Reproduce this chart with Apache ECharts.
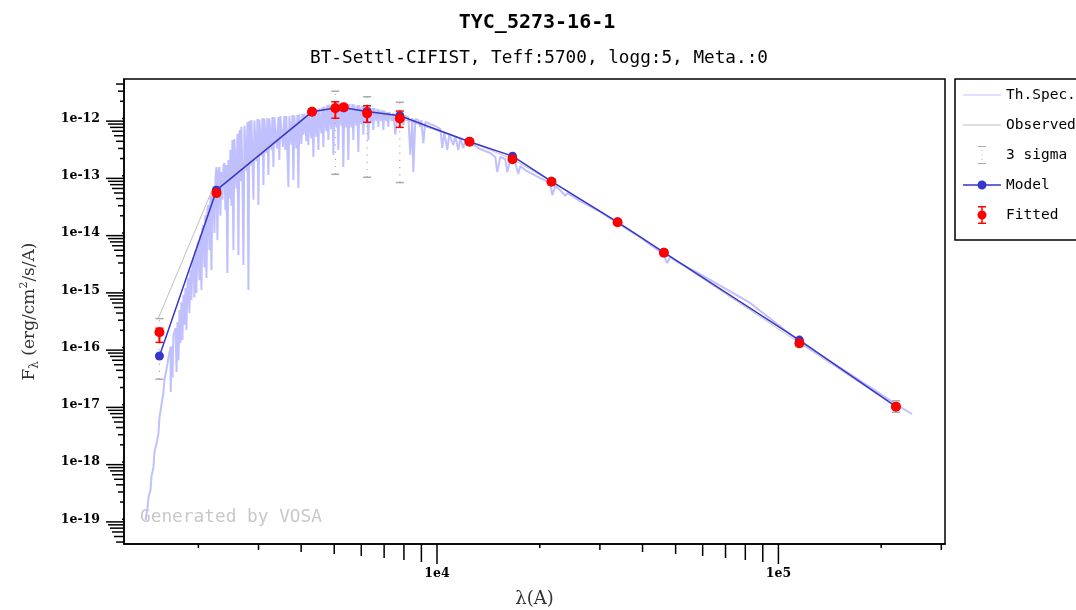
<!DOCTYPE html>
<html><head><meta charset="utf-8">
<script src="https://cdn.jsdelivr.net/npm/echarts@6/dist/echarts.min.js"></script>
<style>html,body{margin:0;padding:0;background:#fff}#c{width:1076px;height:610px}</style>
</head><body><div id="c"></div>
<script>
const titleText = 'TYC_5273-16-1';
const subtitleText = 'BT-Settl-CIFIST, Teff:5700, logg:5, Meta.:0';
const xAxisName = 'λ(A)';
const watermark = 'Generated by VOSA';
const legendNames = ['Th.Spec.', 'Observed', '3 sigma', 'Model', 'Fitted'];

// tick labels (powers of ten shown)
const xTickLabels = ['1e4', '1e5'];
const yTickLabels = ['1e-19', '1e-18', '1e-17', '1e-16', '1e-15', '1e-14', '1e-13', '1e-12'];
// tick marks: mantissa x 10^exp
const xTickVals = [2000,3000,4000,5000,6000,7000,8000,9000,10000,20000,30000,40000,50000,60000,70000,80000,90000,100000,200000,300000];
const yTickMant = [1,2,3,4,5,6,7,8,9];
const yTickExp = [-20,-19,-18,-17,-16,-15,-14,-13,-12];

// theoretical spectrum [wavelength A, flux]
const specData = [[1400,9.7e-20],[1419,1.58e-19],[1429,2.45e-19],[1448,3.25e-19],[1458,5.7e-19],[1477,7.9e-19],[1487,1.5e-18],[1507,2.07e-18],[1528,3.2e-18],[1538,5.9e-18],[1559,9.9e-18],[1580,1.67e-17],[1591,2.71e-17],[1612,4.06e-17],[1634,6.6e-17],[1657,1.02e-16],[1660,1.67e-17],[1668,1.05e-16],[1680,3.0e-17],[1690,1.66e-16],[1714,2.19e-16],[1726,3.74e-17],[1737,2.79e-16],[1749,6.0e-17],[1761,4.5e-16],[1772,1.2e-16],[1784,6.2e-16],[1796,1.35e-16],[1809,8.3e-16],[1821,2.5e-16],[1833,1.1e-15],[1845,2.03e-16],[1858,1.3e-15],[1870,1.64e-15],[1883,4.0e-16],[1896,2.26e-15],[1908,6.8e-16],[1921,3.0e-15],[1934,3.66e-15],[1947,7.5e-16],[1961,5.0e-15],[1973,8.95e-16],[1987,6.0e-15],[2001,6.97e-15],[2014,1.5e-15],[2028,9.2e-15],[2042,1.01e-15],[2055,1.2e-14],[2069,1.38e-14],[2083,2.5e-15],[2097,2.06e-14],[2112,1.64e-15],[2126,2.6e-14],[2140,3.08e-14],[2155,5.0e-15],[2169,4.44e-14],[2184,2.26e-15],[2199,5.5e-14],[2214,6.6e-14],[2229,1.0e-14],[2244,9.1e-14],[2259,1.42e-13],[2274,7.5e-15],[2290,1.2e-13],[2305,1.42e-13],[2320,2.0e-14],[2336,1.16e-13],[2352,3.8e-14],[2368,1.5e-13],[2384,1.67e-13],[2400,2.5e-14],[2416,1.54e-13],[2432,2.0e-15],[2449,1.88e-13],[2465,4.0e-14],[2482,2.82e-13],[2499,3.0e-14],[2516,4.2e-13],[2533,5.0e-15],[2550,4.4e-13],[2568,4.56e-13],[2585,6.0e-14],[2603,5.36e-13],[2620,4.1e-15],[2638,5.8e-13],[2655,6.3e-13],[2664,8.0e-14],[2673,7.1e-13],[2692,9.0e-14],[2710,2.77e-15],[2729,7.5e-13],[2747,8.0e-13],[2765,1.2e-13],[2784,8.7e-13],[2803,1.01e-15],[2821,9.0e-13],[2840,1.5e-13],[2860,9.4e-13],[2880,2.0e-13],[2899,3.8e-14],[2918,9.2e-13],[2938,9.4e-13],[2958,1.8e-13],[2978,9.8e-13],[2998,3.08e-14],[3019,9.6e-13],[3039,9.8e-13],[3060,2.2e-13],[3080,1.02e-12],[3101,6.9e-14],[3122,1.0e-12],[3143,1.02e-12],[3164,2.5e-13],[3185,1.02e-12],[3207,1.03e-13],[3228,1.0e-12],[3250,1.02e-12],[3272,2.8e-13],[3295,1.06e-12],[3317,1.42e-13],[3340,1.05e-12],[3362,1.06e-12],[3396,3.0e-13],[3430,1.06e-12],[3453,1.88e-13],[3477,1.1e-12],[3500,1.11e-12],[3536,3.2e-13],[3572,1.11e-12],[3596,2.82e-13],[3620,1.1e-12],[3645,1.11e-12],[3670,6.4e-14],[3695,1.1e-12],[3720,1.11e-12],[3745,3.5e-13],[3770,1.15e-12],[3796,8.4e-14],[3821,1.14e-12],[3847,1.15e-12],[3873,3.0e-13],[3899,1.15e-12],[3926,6.1e-14],[3952,1.18e-12],[3979,1.2e-12],[4006,3.6e-13],[4033,1.2e-12],[4060,5.2e-13],[4088,1.22e-12],[4116,1.25e-12],[4144,4.0e-13],[4172,1.3e-12],[4200,3.44e-13],[4228,1.3e-12],[4257,1.3e-12],[4285,4.5e-13],[4314,1.35e-12],[4344,2.13e-13],[4373,1.38e-12],[4403,1.41e-12],[4433,4.8e-13],[4463,1.47e-12],[4493,2.82e-13],[4523,1.5e-12],[4554,1.52e-12],[4585,5.5e-13],[4616,1.59e-12],[4647,3.18e-13],[4678,1.62e-12],[4710,1.65e-12],[4742,6.0e-13],[4774,1.72e-12],[4807,4.2e-13],[4840,1.76e-12],[4872,1.79e-12],[4904,6.5e-13],[4936,1.79e-12],[4972,2.3e-13],[5005,1.85e-12],[5039,1.87e-12],[5072,7.0e-13],[5105,1.87e-12],[5140,2.82e-13],[5176,1.86e-12],[5212,1.87e-12],[5246,7.5e-13],[5280,1.87e-12],[5316,1.42e-13],[5352,1.87e-12],[5389,1.87e-12],[5425,7.0e-13],[5462,1.79e-12],[5499,1.88e-13],[5536,1.8e-12],[5574,1.79e-12],[5611,7.0e-13],[5649,1.79e-12],[5687,4.2e-13],[5726,1.75e-12],[5765,1.72e-12],[5804,7.5e-13],[5843,1.72e-12],[5883,2.6e-13],[5922,1.72e-12],[5962,1.72e-12],[6002,8.0e-13],[6043,1.65e-12],[6085,5.2e-13],[6126,1.66e-12],[6168,1.65e-12],[6209,8.0e-13],[6251,1.59e-12],[6294,4.2e-13],[6336,1.6e-12],[6379,1.59e-12],[6422,8.5e-13],[6466,1.52e-12],[6510,6.3e-13],[6554,1.52e-12],[6598,1.52e-12],[6642,9.0e-13],[6687,1.47e-12],[6733,7.1e-13],[6778,1.44e-12],[6824,1.41e-12],[6870,9.0e-13],[6917,1.41e-12],[6964,6.3e-13],[7011,1.37e-12],[7058,1.35e-12],[7105,9.0e-13],[7153,1.3e-12],[7201,7.1e-13],[7250,1.3e-12],[7300,1.3e-12],[7375,9.0e-13],[7449,1.25e-12],[7550,5.2e-13],[7652,1.2e-12],[7730,9.0e-13],[7809,1.2e-12],[7968,7.7e-13],[8076,1.11e-12],[8241,1.06e-12],[8353,2.3e-13],[8467,1.02e-12],[8524,1.16e-13],[8640,9.8e-13],[8816,9.4e-13],[8936,7.1e-13],[8995,9.4e-13],[9119,3.7e-13],[9243,8.7e-13],[9559,8.0e-13],[9886,7.4e-13],[10222,6.6e-13],[10363,3.06e-13],[10505,5.8e-13],[10720,2.82e-13],[10866,5.36e-13],[11163,3.44e-13],[11312,4.94e-13],[11544,2.82e-13],[11700,4.56e-13],[11940,3.06e-13],[12103,4.2e-13],[12517,3.7e-13],[12945,3.31e-13],[13390,2.93e-13],[14322,2.5e-13],[14814,2.13e-13],[15016,1.16e-13],[15320,2.13e-13],[15848,1.96e-13],[16064,1.16e-13],[16388,1.88e-13],[16950,1.67e-13],[17300,1.07e-13],[17536,1.48e-13],[18137,1.26e-13],[18759,1.12e-13],[20063,9.1e-14],[21460,7.5e-14],[21750,4.6e-14],[22210,6.6e-14],[22960,5.6e-14],[23750,4.44e-14],[24070,5.0e-14],[26270,3.62e-14],[30070,2.33e-14],[34410,1.38e-14],[39380,8.5e-15],[40720,7.3e-15],[45980,4.3e-15],[47230,2.99e-15],[48200,3.81e-15],[50510,3.12e-15],[59000,1.92e-15],[82640,6.0e-16],[115750,1.25e-16],[162150,3.45e-17],[227200,9.2e-18],[246200,6.9e-18]];

// observed SED line
const obsData = [[1528,3.3e-16],[2214,6.4e-14],[4305,1.31e-12],[5036,1.51e-12],[5330,1.56e-12],[6240,1.25e-12],[7780,1.02e-12],[12450,3.94e-13],[16640,1.96e-13],[21640,7.9e-14],[33800,1.54e-14],[46200,4.5e-15],[115200,1.2e-16],[221000,9.3e-18]];

// model photometry
const modelData = [[1538,7.1e-17],[2260,5.6e-14],[4305,1.31e-12],[5036,1.52e-12],[5330,1.54e-12],[6240,1.33e-12],[7780,1.12e-12],[12450,3.94e-13],[16640,2.2e-13],[21640,8.0e-14],[33800,1.55e-14],[46200,4.6e-15],[115200,1.35e-16],[221000,9.3e-18]];

// fitted photometry [wave, flux, low, high]
const fitData = [[1538,1.85e-16,1.23e-16,2.17e-16],[2260,5.0e-14,4.7e-14,5.3e-14],[4305,1.31e-12,1.26e-12,1.36e-12],[5036,1.51e-12,1.01e-12,1.96e-12],[5330,1.57e-12,1.5e-12,1.64e-12],[6240,1.23e-12,8.6e-13,1.67e-12],[7780,1.0e-12,7.0e-13,1.35e-12],[12450,3.94e-13,3.8e-13,4.1e-13],[16640,1.94e-13,1.88e-13,2.0e-13],[21640,7.87e-14,7.6e-14,8.1e-14],[33800,1.54e-14,1.49e-14,1.59e-14],[46200,4.53e-15,4.38e-15,4.68e-15],[115200,1.19e-16,1.14e-16,1.24e-16],[221000,9.27e-18,8.6e-18,9.9e-18]];

// 3 sigma ranges [wave, flux, low, high]
const sigmaData = [[1538,1.85e-16,2.8e-17,3.2e-16],[2260,5.0e-14,4.2e-14,5.9e-14],[4305,1.31e-12,1.15e-12,1.47e-12],[5036,1.51e-12,1.06e-13,3.0e-12],[5330,1.57e-12,1.38e-12,1.76e-12],[6240,1.23e-12,9.4e-14,2.4e-12],[7780,1.0e-12,7.6e-14,1.92e-12],[12450,3.94e-13,3.5e-13,4.4e-13],[16640,1.94e-13,1.72e-13,2.16e-13],[21640,7.87e-14,7.0e-14,8.8e-14],[33800,1.54e-14,1.37e-14,1.71e-14],[46200,4.53e-15,4.0e-15,5.1e-15],[115200,1.19e-16,1.03e-16,1.36e-16],[221000,9.27e-18,7.4e-18,1.17e-17]];

const xMin = 1211, xMax = 307600;
const yMin = 3.7e-20, yMax = 4.9e-12;

const C_SPEC = '#c0c0ff', C_OBS = '#c0c0c0', C_SIG = '#aaaaaa', C_MODEL = '#3636cc', C_FIT = '#ff0000';

const yTickData = [];
yTickExp.forEach(e => yTickMant.forEach(m => {
  const v = m * Math.pow(10, e);
  if (v > yMin && v < yMax) yTickData.push([2000, v, m]);
}));
const xTickData = xTickVals.map(v => {
  const m = Math.round(v / Math.pow(10, Math.floor(Math.log10(v) + 1e-9)));
  return [v, 1e-15, m === 1 ? 10 : m];
});

function powLabel(list) {
  return function (v) {
    const l = Math.log10(v);
    if (Math.abs(l - Math.round(l)) > 1e-6) return '';
    const s = '1e' + Math.round(l);
    return list.indexOf(s) >= 0 ? s : '';
  };
}

function errRender(color, dotted, withDot) {
  return function (params, api) {
    const x = api.value(0);
    const p = api.coord([x, api.value(1)]);
    const lo = api.coord([x, api.value(2)]);
    const hi = api.coord([x, api.value(3)]);
    const cw = 4;
    const lw = dotted ? 1.2 : 2;
    const ch = [
      {type: 'line', shape: {x1: lo[0], y1: lo[1], x2: hi[0], y2: hi[1]},
       style: {stroke: color, lineWidth: lw, lineDash: dotted ? [1.2, 6] : null}},
      {type: 'line', shape: {x1: lo[0] - cw, y1: lo[1], x2: lo[0] + cw, y2: lo[1]}, style: {stroke: color, lineWidth: 1.5}},
      {type: 'line', shape: {x1: hi[0] - cw, y1: hi[1], x2: hi[0] + cw, y2: hi[1]}, style: {stroke: color, lineWidth: 1.5}}
    ];
    if (withDot) ch.push({type: 'circle', shape: {cx: p[0], cy: p[1], r: 5}, style: {fill: color}});
    return {type: 'group', children: ch};
  };
}

const chart = echarts.init(document.getElementById('c'), null, {renderer: 'canvas'});
chart.setOption({
  animation: false,
  backgroundColor: '#fff',
  title: [
    {text: titleText, left: 532, top: 8, textAlign: 'center',
     textStyle: {fontFamily: 'DejaVu Sans Mono', fontWeight: 'bold', fontSize: 20, color: '#000'}},
    {text: subtitleText, left: 534, top: 44, textAlign: 'center',
     textStyle: {fontFamily: 'DejaVu Sans Mono', fontWeight: 'normal', fontSize: 17.7, color: '#000'}}
  ],
  graphic: [{type: 'text', left: 140, top: 508, z: 0,
    style: {text: watermark, fill: '#c8c8c8', font: '17.8px "DejaVu Sans Mono"'}}],
  legend: {
    orient: 'vertical', left: 955, top: 79,
    padding: [7, 10, 16, 8],
    itemWidth: 38, itemHeight: 18, itemGap: 12,
    borderColor: '#000', borderWidth: 1.5, backgroundColor: '#fff',
    selectedMode: false,
    itemStyle: {borderWidth: 0},
    textStyle: {fontFamily: 'DejaVu Sans Mono', fontSize: 14.5, lineHeight: 18, color: '#000'},
    data: [
      {name: legendNames[0], icon: 'path://M0,0H38V1H0Z'},
      {name: legendNames[1], icon: 'path://M0,0H38V1H0Z'},
      {name: legendNames[2], icon: 'path://M0,0H8V1H0Z M3.5,4H4.5V5H3.5Z M3.5,8.5H4.5V9.5H3.5Z M3.5,13H4.5V14H3.5Z M0,17H8V18H0Z'},
      {name: legendNames[3], icon: 'path://M0,8.25H38V9.75H0Z M19,4.5A4.5,4.5,0,1,1,18.99,4.5Z'},
      {name: legendNames[4], icon: 'path://M0,0H8V1.5H0Z M3.25,1.5H4.75V16.5H3.25Z M0,16.5H8V18H0Z M4,4.5A4.5,4.5,0,1,1,3.99,4.5Z'}
    ]
  },
  grid: {left: 124, top: 79, right: 131, bottom: 66, show: true, borderColor: '#000', borderWidth: 1.5,
         containLabel: false, outerBoundsMode: 'none'},
  xAxis: {
    type: 'log', logBase: 10, min: xMin, max: xMax,
    name: xAxisName, nameLocation: 'middle', nameGap: 46, nameMoveOverlap: false,
    nameTextStyle: {fontFamily: 'DejaVu Serif', fontSize: 18, color: '#333'},
    axisLine: {show: true, lineStyle: {color: '#000', width: 1.5}},
    axisTick: {show: false}, minorTick: {show: false},
    splitLine: {show: false},
    axisLabel: {show: true, margin: 23, formatter: powLabel(xTickLabels), showMinLabel: true, showMaxLabel: true,
      fontFamily: 'DejaVu Serif', fontWeight: 'bold', fontSize: 12.5, color: '#000'}
  },
  yAxis: {
    type: 'log', logBase: 10, min: yMin, max: yMax,
    name: '{a|F}{s|λ}{a| (erg/cm}{p|2}{a|/s/A)}', nameLocation: 'middle', nameRotate: 90, nameGap: 83, nameMoveOverlap: false,
    nameTextStyle: {rich: {
      a: {fontFamily: 'DejaVu Serif', fontSize: 17, color: '#333', lineHeight: 22, verticalAlign: 'middle'},
      s: {fontFamily: 'DejaVu Serif', fontSize: 12, color: '#333', lineHeight: 22, verticalAlign: 'bottom'},
      p: {fontFamily: 'DejaVu Serif', fontSize: 11, color: '#333', lineHeight: 22, verticalAlign: 'top'}
    }},
    axisLine: {show: true, lineStyle: {color: '#000', width: 1.5}},
    axisTick: {show: false}, minorTick: {show: false},
    splitLine: {show: false},
    axisLabel: {show: true, margin: 24, formatter: powLabel(yTickLabels),
      fontFamily: 'DejaVu Serif', fontWeight: 'bold', fontSize: 12.5, color: '#000'}
  },
  series: [
    {name: legendNames[0], type: 'line', data: specData, symbol: 'none', color: C_SPEC,
     lineStyle: {color: C_SPEC, width: 2}, z: 1, silent: true},
    {name: legendNames[1], type: 'line', data: obsData, symbol: 'none', color: C_OBS,
     lineStyle: {color: C_OBS, width: 1}, z: 2, silent: true},
    {name: legendNames[2], type: 'custom', data: sigmaData, color: C_SIG, z: 3, silent: true,
     encode: {x: 0, y: 1}, renderItem: errRender(C_SIG, true, false)},
    {name: legendNames[3], type: 'line', data: modelData, color: C_MODEL, symbol: 'circle', symbolSize: 9,
     showSymbol: true, lineStyle: {color: C_MODEL, width: 1.5}, itemStyle: {color: C_MODEL}, z: 4, silent: true},
    {name: legendNames[4], type: 'custom', data: fitData, color: C_FIT, z: 5, silent: true,
     encode: {x: 0, y: 1}, renderItem: errRender(C_FIT, false, true)},
    {name: 'xticks', type: 'custom', data: xTickData, clip: false, silent: true, z: 6, encode: {x: 0, y: 1},
     renderItem: function (params, api) {
       const p = api.coord([api.value(0), api.value(1)]);
       const cs = params.coordSys; const y0 = cs.y + cs.height;
       return {type: 'line', shape: {x1: p[0], y1: y0, x2: p[0], y2: y0 + 2 * api.value(2)}, style: {stroke: '#000', lineWidth: 1.5}};
     }},
    {name: 'yticks', type: 'custom', data: yTickData, clip: false, silent: true, z: 6, encode: {x: 0, y: 1},
     renderItem: function (params, api) {
       const p = api.coord([api.value(0), api.value(1)]);
       const cs = params.coordSys; const x0 = cs.x;
       return {type: 'line', shape: {x1: x0, y1: p[1], x2: x0 - 2 * api.value(2), y2: p[1]}, style: {stroke: '#000', lineWidth: 1.5}};
     }}
  ]
});
</script></body></html>
